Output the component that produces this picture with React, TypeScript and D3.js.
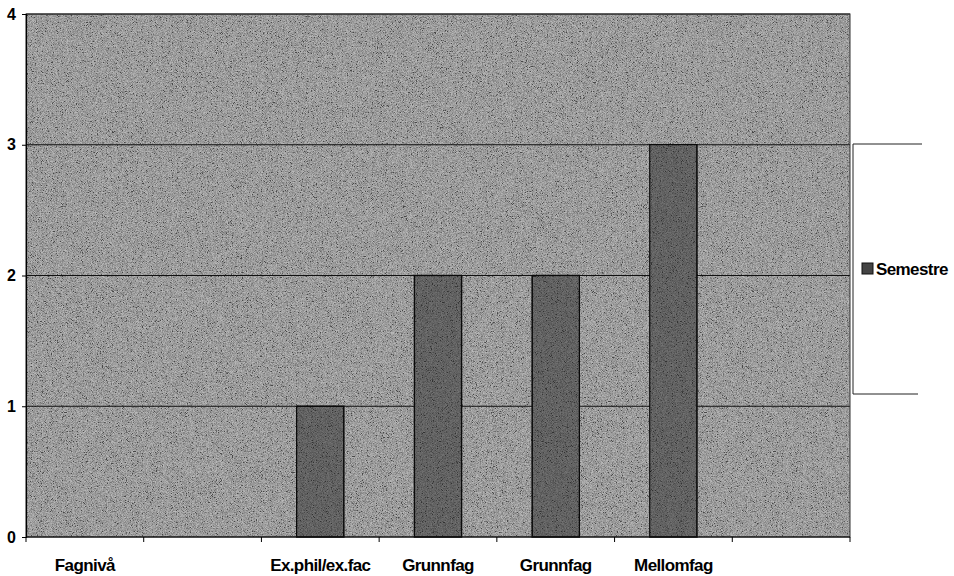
import { useRef, useEffect } from 'react';
import * as d3 from 'd3';

const CATEGORIES = ['Fagnivå', '', 'Ex.phil/ex.fac', 'Grunnfag', 'Grunnfag', 'Mellomfag', ''];
const SEMESTRE: (number | null)[] = [null, null, 1, 2, 2, 3, null];
const Y_TICKS = [0, 1, 2, 3, 4];
const SERIES_NAME = 'Semestre';

const W = 954;
const H = 576;
const MARGIN = { top: 14, right: 104, bottom: 39, left: 26 };

export default function App() {
  const svgRef = useRef<SVGSVGElement>(null);

  useEffect(() => {
    const svg = svgRef.current;
    if (!svg) return;
    const root = d3.select(svg);
    root.selectAll('*').remove();

    const x0 = MARGIN.left;
    const x1 = W - MARGIN.right;
    const y0 = H - MARGIN.bottom;
    const y1 = MARGIN.top;

    const xScale = d3
      .scaleBand<number>()
      .domain(CATEGORIES.map((_, i) => i))
      .range([x0, x1])
      .paddingInner(0)
      .paddingOuter(0);
    const yScale = d3.scaleLinear().domain([0, 4]).range([y0, y1]);

    // grain filter to mimic the scanned fill
    const defs = root.append('defs');
    const f = defs
      .append('filter')
      .attr('id', 'grain')
      .attr('x', 0)
      .attr('y', 0)
      .attr('width', '100%')
      .attr('height', '100%');
    f.append('feTurbulence')
      .attr('type', 'fractalNoise')
      .attr('baseFrequency', 1.2)
      .attr('numOctaves', 2)
      .attr('seed', 7)
      .attr('result', 'n');
    f.append('feColorMatrix')
      .attr('type', 'matrix')
      .attr('values', '1.2 1.2 1.2 0 -1.3  1.2 1.2 1.2 0 -1.3  1.2 1.2 1.2 0 -1.3  0 0 0 0 1');

    const font = '"Liberation Sans", Arial, sans-serif';

    // Plot area
    root
      .append('rect')
      .attr('x', x0)
      .attr('y', y1)
      .attr('width', x1 - x0)
      .attr('height', y0 - y1)
      .attr('fill', '#828282');
    root
      .append('rect')
      .attr('x', x0)
      .attr('y', y1)
      .attr('width', x1 - x0)
      .attr('height', y0 - y1)
      .attr('filter', 'url(#grain)')
      .attr('opacity', 0.45);

    // Gridlines
    root
      .append('g')
      .selectAll('line')
      .data(Y_TICKS.filter((t) => t > 0))
      .join('line')
      .attr('x1', x0)
      .attr('x2', x1)
      .attr('y1', (d) => yScale(d))
      .attr('y2', (d) => yScale(d))
      .attr('stroke', '#111')
      .attr('stroke-width', 1);

    // Bars
    const barW = xScale.bandwidth() / 2.5;
    const bars = root.append('g');
    SEMESTRE.forEach((v, i) => {
      if (v === null) return;
      const cx = (xScale(i) ?? 0) + xScale.bandwidth() / 2;
      bars
        .append('rect')
        .attr('x', cx - barW / 2)
        .attr('y', yScale(v))
        .attr('width', barW)
        .attr('height', yScale(0) - yScale(v))
        .attr('fill', '#444')
        .attr('stroke', '#0a0a0a')
        .attr('stroke-width', 1.5);
      bars
        .append('rect')
        .attr('x', cx - barW / 2 + 1)
        .attr('y', yScale(v) + 1)
        .attr('width', barW - 2)
        .attr('height', yScale(0) - yScale(v) - 2)
        .attr('filter', 'url(#grain)')
        .attr('opacity', 0.25);
    });

    // Plot border
    root
      .append('rect')
      .attr('x', x0)
      .attr('y', y1)
      .attr('width', x1 - x0)
      .attr('height', y0 - y1)
      .attr('fill', 'none')
      .attr('stroke', '#333')
      .attr('stroke-width', 1);

    // Y axis
    const yAxis = d3.axisLeft(yScale).tickValues(Y_TICKS).tickSize(4).tickPadding(6).tickFormat(d3.format('d'));
    const yg = root.append('g').attr('transform', `translate(${x0},0)`).call(yAxis);
    yg.select('.domain').attr('stroke', '#000').attr('stroke-width', 1.2);
    yg.selectAll('line').attr('stroke', '#000');
    yg.selectAll('text')
      .attr('fill', '#000')
      .attr('font-family', font)
      .attr('font-size', '16px')
      .attr('font-weight', 'bold');

    // X axis ticks at band boundaries
    const bounds = [...CATEGORIES.map((_, i) => xScale(i) ?? 0), x1];
    const xg = root.append('g');
    xg.append('line')
      .attr('x1', x0)
      .attr('x2', x1)
      .attr('y1', y0)
      .attr('y2', y0)
      .attr('stroke', '#000')
      .attr('stroke-width', 1.2);
    xg.selectAll('.tick')
      .data(bounds)
      .join('line')
      .attr('x1', (d) => d)
      .attr('x2', (d) => d)
      .attr('y1', y0)
      .attr('y2', y0 + 5)
      .attr('stroke', '#000');
    xg.selectAll('text')
      .data(CATEGORIES)
      .join('text')
      .attr('x', (_, i) => (xScale(i) ?? 0) + xScale.bandwidth() / 2)
      .attr('y', y0 + 34)
      .attr('text-anchor', 'middle')
      .attr('fill', '#000')
      .attr('font-family', font)
      .attr('font-size', '17px')
      .attr('font-weight', 'bold')
      .attr('letter-spacing', '-0.6px')
      .text((d) => d);

    // Legend (right edge is cut off in the source)
    const lx = 853;
    const ly1 = 144;
    const ly2 = 394;
    const lg = root.append('g').attr('stroke', '#222').attr('stroke-width', 1).attr('fill', 'none');
    lg.append('path').attr('d', `M${lx + 69},${ly1}H${lx}V${ly2}H${lx + 65}`);
    root
      .append('rect')
      .attr('x', 862)
      .attr('y', 263)
      .attr('width', 11)
      .attr('height', 11)
      .attr('fill', '#444')
      .attr('stroke', '#111');
    root
      .append('text')
      .attr('x', 876)
      .attr('y', 275)
      .attr('fill', '#000')
      .attr('font-family', font)
      .attr('font-size', '17px')
      .attr('font-weight', 'bold')
      .attr('letter-spacing', '-0.6px')
      .text(SERIES_NAME);
  }, []);

  return (
    <svg
      ref={svgRef}
      width={W}
      height={H}
      viewBox={`0 0 ${W} ${H}`}
      style={{ position: 'fixed', top: 0, left: 0, display: 'block', background: '#fff' }}
    />
  );
}
